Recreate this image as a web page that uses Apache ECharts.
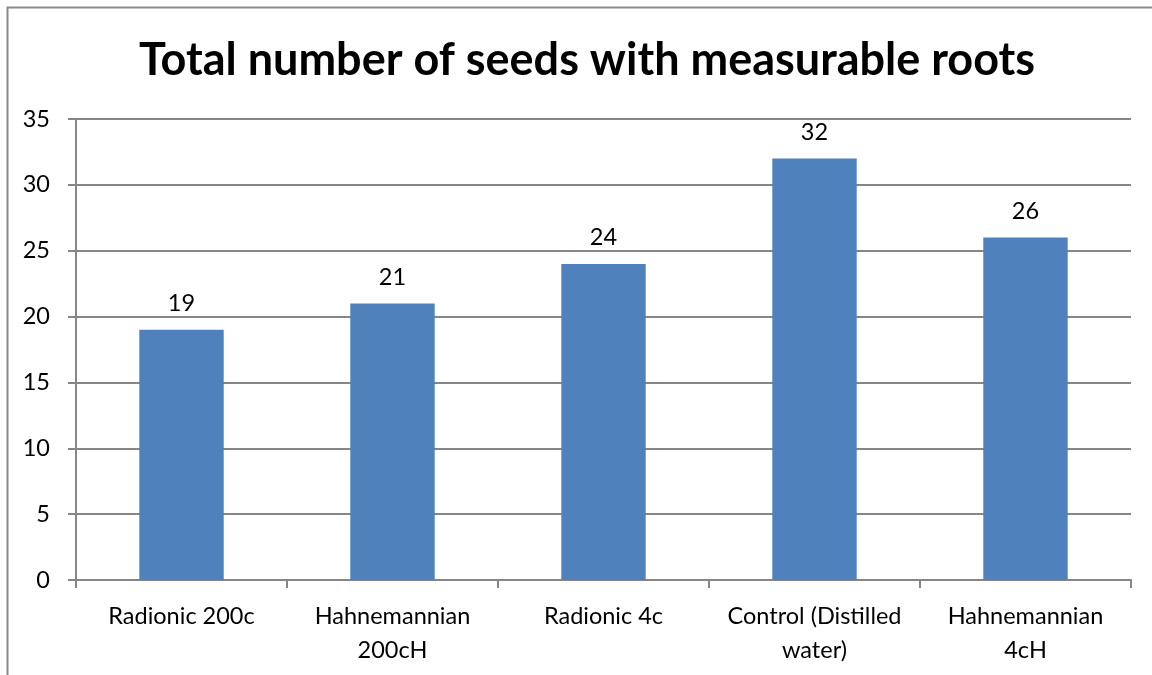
<!DOCTYPE html>
<html>
<head>
<meta charset="utf-8">
<script src="https://cdn.jsdelivr.net/npm/echarts@6/dist/echarts.min.js"></script>
<style>
  html, body { margin: 0; padding: 0; background: #fff; }
  #chart { width: 1152px; height: 675px; }
</style>
</head>
<body>
<div id="chart"></div>
<script>
// Seeds with measurable roots per treatment
const categories = ['Radionic 200c', 'Hahnemannian\n200cH', 'Radionic 4c', 'Control (Distilled\nwater)', 'Hahnemannian\n4cH'];
const seedCounts = [19, 21, 24, 32, 26];
const yTicks = { min: 0, max: 35, interval: 5 };

const chart = echarts.init(document.getElementById('chart'), null, { renderer: 'canvas' });
const fontFamily = 'Lato, "Open Sans", sans-serif';

chart.setOption({
  animation: false,
  backgroundColor: '#ffffff',
  title: {
    text: 'Total number of seeds with measurable roots',
    left: 134,
    top: 33,
    textStyle: { fontFamily, fontSize: 45, fontWeight: 'bold', color: '#000' }
  },
  graphic: [{
    type: 'rect',
    shape: { x: 7.5, y: 7.5, width: 1200, height: 700 },
    style: { fill: 'none', stroke: '#8a8a8a', lineWidth: 2 },
    silent: true
  }],
  grid: { left: 76, right: 21, top: 119, bottom: 95, containLabel: false },
  xAxis: {
    type: 'category',
    data: categories,
    axisLine: { lineStyle: { color: '#868686', width: 2 } },
    axisTick: { show: true, length: 8, alignWithLabel: false, lineStyle: { color: '#868686', width: 2 } },
    axisLabel: { fontFamily, fontSize: 23.5, color: '#000', margin: 19, lineHeight: 34, interval: 0 }
  },
  yAxis: {
    type: 'value',
    min: yTicks.min,
    max: yTicks.max,
    interval: yTicks.interval,
    axisLine: { show: true, lineStyle: { color: '#868686', width: 2 } },
    axisTick: { show: true, length: 8, lineStyle: { color: '#868686', width: 2 } },
    axisLabel: { fontFamily, fontSize: 23.5, color: '#000', margin: 26 },
    splitLine: { lineStyle: { color: '#868686', width: 2 } }
  },
  series: [{
    type: 'bar',
    data: seedCounts,
    barWidth: '40%',
    itemStyle: { color: '#4f81bd' },
    label: { show: true, position: 'top', distance: 14, fontFamily, fontSize: 23.5, color: '#000' }
  }]
});
</script>
</body>
</html>
